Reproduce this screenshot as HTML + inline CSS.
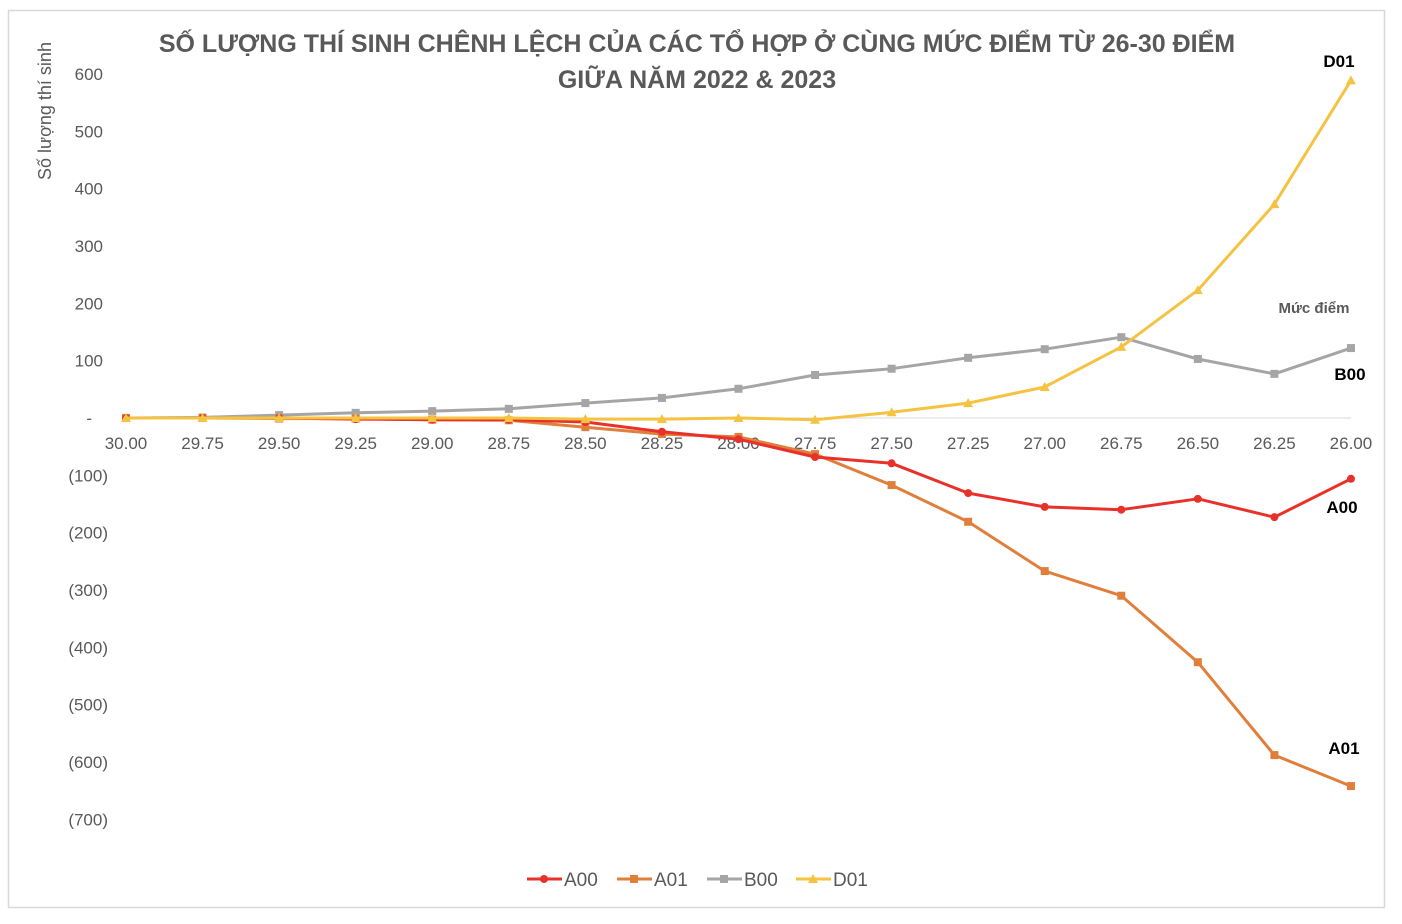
<!DOCTYPE html>
<html><head><meta charset="utf-8"><style>
body{margin:0;background:#fff;}
svg{display:block;font-family:"Liberation Sans",sans-serif;}
</style></head><body>
<svg id="s" width="1402" height="924" xmlns="http://www.w3.org/2000/svg">
<rect x="0" y="0" width="1402" height="924" fill="#fff"/>
<rect x="8.5" y="10.5" width="1376" height="897" fill="none" stroke="#d9d9d9" stroke-width="1.5"/>
<text x="697" y="52" text-anchor="middle" font-size="25" font-weight="bold" fill="#595959">SỐ LƯỢNG THÍ SINH CHÊNH LỆCH CỦA CÁC TỔ HỢP Ở CÙNG MỨC ĐIỂM TỪ 26-30 ĐIỂM</text>
<text x="697" y="88" text-anchor="middle" font-size="25" font-weight="bold" fill="#595959">GIỮA NĂM 2022 &amp; 2023</text>
<text transform="translate(51,111) rotate(-90)" text-anchor="middle" font-size="18" fill="#595959">Số lượng thí sinh</text>
<text x="1314" y="313" text-anchor="middle" font-size="15" font-weight="bold" fill="#595959">Mức điểm</text>
<g id="g"></g>
<text x="1339" y="67" text-anchor="middle" font-size="17" font-weight="bold">D01</text>
<text x="1350" y="380" text-anchor="middle" font-size="17" font-weight="bold">B00</text>
<text x="1342" y="513" text-anchor="middle" font-size="17" font-weight="bold">A00</text>
<text x="1344" y="754" text-anchor="middle" font-size="17" font-weight="bold">A01</text>
<g font-size="19" fill="#595959">
<line x1="527" y1="879" x2="562" y2="879" stroke="#e8312a" stroke-width="3"/><circle cx="544" cy="879" r="4" fill="#e8312a"/><text x="564" y="886">A00</text>
<line x1="617" y1="879" x2="652" y2="879" stroke="#e07f3c" stroke-width="3"/><rect x="630" y="875" width="8" height="8" fill="#e07f3c"/><text x="654" y="886">A01</text>
<line x1="707" y1="879" x2="742" y2="879" stroke="#a5a5a5" stroke-width="3"/><rect x="720" y="875" width="8" height="8" fill="#a5a5a5"/><text x="744" y="886">B00</text>
<line x1="796" y1="879" x2="831" y2="879" stroke="#f5c342" stroke-width="3"/><polygon points="813,874 818,883 808,883" fill="#f5c342"/><text x="833" y="886">D01</text>
</g>
</svg>
<script>
var g=document.getElementById('g'),h='';
function Y(v){return 418-v*0.5733;}
function X(i){return 126+i*76.56;}
var yl=[[600,'600'],[500,'500'],[400,'400'],[300,'300'],[200,'200'],[100,'100'],[0,'-'],[-100,'(100)'],[-200,'(200)'],[-300,'(300)'],[-400,'(400)'],[-500,'(500)'],[-600,'(600)'],[-700,'(700)']];
yl.forEach(function(a){h+='<text x="'+(a[0]==0?92:(a[0]<0?108:103))+'" y="'+(Y(a[0])+6)+'" text-anchor="end" font-size="17" fill="#595959">'+a[1]+'</text>';});
h+='<line x1="126" y1="418" x2="1351" y2="418" stroke="#d9d9d9" stroke-width="1"/>';
var xl=['30.00','29.75','29.50','29.25','29.00','28.75','28.50','28.25','28.00','27.75','27.50','27.25','27.00','26.75','26.50','26.25','26.00'];
xl.forEach(function(t,i){h+='<text x="'+X(i)+'" y="449" text-anchor="middle" font-size="17" fill="#595959">'+t+'</text>';});
var S=[
['#a5a5a5','s',[0,1,5,9,12,16,26,35,51,75,86,105,120,141,103,77,122]],
['#e07f3c','s',[0,0,-1,-1,-3,-4,-16,-28,-33,-63,-117,-181,-267,-310,-426,-588,-642]],
['#e8312a','c',[0,0,0,-2,-3,-3,-7,-24,-37,-68,-79,-131,-155,-160,-141,-173,-106]],
['#f5c342','t',[0,0,0,0,0,0,-2,-2,0,-3,10,26,54,124,223,373,589]]];
S.forEach(function(s){var p=s[2].map(function(v,i){return X(i).toFixed(1)+','+Y(v).toFixed(1);}).join(' ');
h+='<polyline points="'+p+'" fill="none" stroke="'+s[0]+'" stroke-width="3" stroke-linejoin="round"/>';
s[2].forEach(function(v,i){var x=X(i),y=Y(v);
if(s[1]=='c')h+='<circle cx="'+x+'" cy="'+y+'" r="4" fill="'+s[0]+'"/>';
else if(s[1]=='s')h+='<rect x="'+(x-4)+'" y="'+(y-4)+'" width="8" height="8" fill="'+s[0]+'"/>';
else h+='<polygon points="'+x+','+(y-5)+' '+(x+5)+','+(y+4)+' '+(x-5)+','+(y+4)+'" fill="'+s[0]+'"/>';});});
g.innerHTML=h;
</script>
</body></html>
